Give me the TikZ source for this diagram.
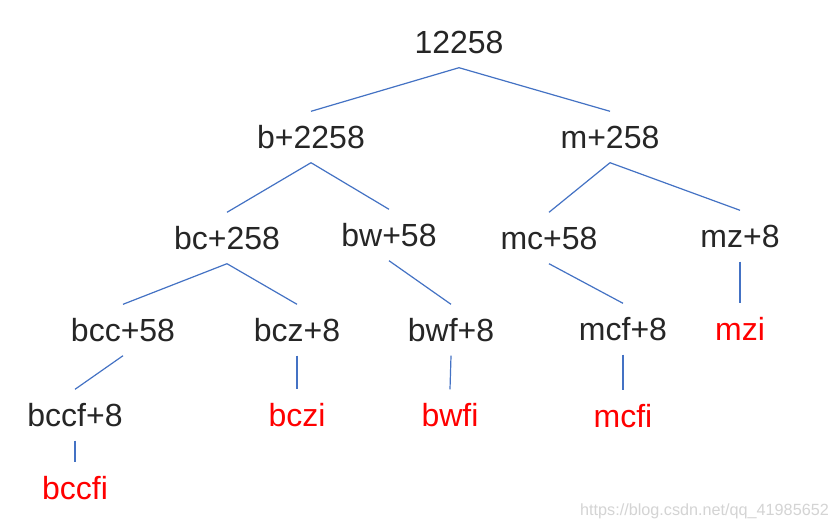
\documentclass[tikz,border=0pt]{standalone}
\usepackage{fontspec}
\setmainfont{Liberation Sans}
\definecolor{edgeblue}{HTML}{4472C4}
\definecolor{leafred}{HTML}{FF0000}
\definecolor{wmgray}{HTML}{D4D4D4}
\tikzset{
  tnode/.style={inner xsep=0pt, inner ysep=14pt, text height=23pt, text depth=0pt,
    font=\fontsize{32}{36}\selectfont, text=black!85},
  leaf/.style={tnode, text=leafred},
  edge/.style={draw=edgeblue, line width=1.2pt},
}
\begin{document}
\begin{tikzpicture}[x=1pt,y=1pt]
\useasboundingbox[fill=white] (0,0) rectangle (838,-531);
\node[tnode] (r) at (459,-42) {12258};
\node[tnode] (b) at (311,-137) {b+2258};
\node[tnode] (m) at (610,-137) {m+258};
\node[tnode] (bc) at (227,-238) {bc+258};
\node[tnode] (bw) at (389,-235) {bw+58};
\node[tnode] (mc) at (549,-238) {mc+58};
\node[tnode] (mz) at (740,-236) {mz+8};
\node[tnode] (bcc) at (123,-330) {bcc+58};
\node[tnode] (bcz) at (297,-330) {bcz+8};
\node[tnode] (bwf) at (451,-330) {bwf+8};
\node[tnode] (mcf) at (623,-329) {mcf+8};
\node[leaf] (mzi) at (740,-329) {mzi};
\node[tnode] (bccf) at (75,-415) {bccf+8};
\node[leaf] (bczi) at (297,-415) {bczi};
\node[leaf] (bwfi) at (450,-415) {bwfi};
\node[leaf] (mcfi) at (623,-416) {mcfi};
\node[leaf] (bccfi) at (75,-488) {bccfi};
\node[anchor=east, inner sep=0pt, text=wmgray, font=\fontsize{16.2}{18}\selectfont] (wm) at (829,-511) {https://blog.csdn.net/qq\_41985652};
\draw[edge] (r.south) -- (b.north);
\draw[edge] (r.south) -- (m.north);
\draw[edge] (b.south) -- (bc.north);
\draw[edge] (b.south) -- (bw.north);
\draw[edge] (m.south) -- (mc.north);
\draw[edge] (m.south) -- (mz.north);
\draw[edge] (bc.south) -- (bcc.north);
\draw[edge] (bc.south) -- (bcz.north);
\draw[edge] (bw.south) -- (bwf.north);
\draw[edge] (mc.south) -- (mcf.north);
\draw[edge] (mz.south) -- (mzi.north);
\draw[edge] (bcc.south) -- (bccf.north);
\draw[edge] (bcz.south) -- (bczi.north);
\draw[edge] (bwf.south) -- (bwfi.north);
\draw[edge] (mcf.south) -- (mcfi.north);
\draw[edge] (bccf.south) -- (bccfi.north);
\end{tikzpicture}
\end{document}
